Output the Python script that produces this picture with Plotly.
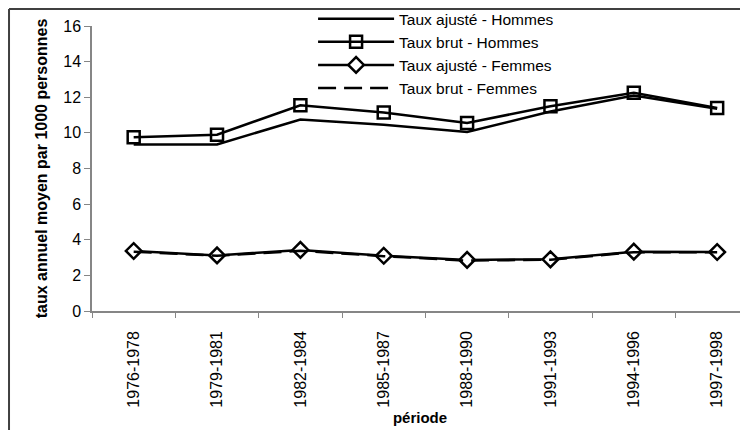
"""Taux annuel moyen par 1000 personnes, hommes / femmes, par période."""

import plotly.graph_objects as go

# Données
periodes = [
    "1976-1978", "1979-1981", "1982-1984", "1985-1987",
    "1988-1990", "1991-1993", "1994-1996", "1997-1998",
]
ajuste_hommes = [9.35, 9.35, 10.75, 10.45, 10.05, 11.2, 12.1, 11.35]
brut_hommes = [9.75, 9.9, 11.55, 11.15, 10.55, 11.5, 12.25, 11.4]
ajuste_femmes = [3.37, 3.12, 3.43, 3.1, 2.87, 2.9, 3.33, 3.31]
brut_femmes = [3.33, 3.1, 3.38, 3.08, 2.83, 2.88, 3.3, 3.3]

FONT = "Arial, Liberation Sans, sans-serif"
BLACK = "#000000"
AXIS = "#868686"
FRAME = "#404040"

fig = go.Figure()
fig.add_trace(go.Scatter(
    x=periodes, y=ajuste_hommes, name="Taux ajusté - Hommes",
    mode="lines", line=dict(color=BLACK, width=2.5),
))
fig.add_trace(go.Scatter(
    x=periodes, y=brut_hommes, name="Taux brut - Hommes",
    mode="lines+markers", line=dict(color=BLACK, width=2.5),
    marker=dict(symbol="square-open", size=12, color=BLACK, line=dict(width=2.5)),
))
fig.add_trace(go.Scatter(
    x=periodes, y=ajuste_femmes, name="Taux ajusté - Femmes",
    mode="lines+markers", line=dict(color=BLACK, width=2.5),
    marker=dict(symbol="diamond", size=12, color="white", line=dict(color=BLACK, width=2.5)),
))
fig.add_trace(go.Scatter(
    x=periodes, y=brut_femmes, name="Taux brut - Femmes",
    mode="lines", line=dict(color=BLACK, width=2.5, dash="18px,8px"),
))

# cadre extérieur, coupé à droite et en bas comme sur l'image
# (la page a une marge de 8 px : la figure fait 740x422)
FX, FY = -0.1265, 1.0596
fig.add_shape(type="line", xref="paper", yref="paper", x0=FX, x1=1.2, y0=FY, y1=FY,
              line=dict(color=FRAME, width=2))
fig.add_shape(type="line", xref="paper", yref="paper", x0=FX, x1=FX, y0=FY, y1=-0.6,
              line=dict(color=FRAME, width=2))

fig.update_layout(
    width=740, height=422,
    margin=dict(l=84, r=0, t=18, b=119, autoexpand=False),
    plot_bgcolor="white", paper_bgcolor="white",
    font=dict(family=FONT, size=16, color=BLACK),
    showlegend=True,
    legend=dict(
        x=0.337, y=1.084, xanchor="left", yanchor="top",
        bgcolor="rgba(0,0,0,0)", font=dict(size=15.5, color=BLACK),
        itemwidth=76, tracegroupgap=0,
    ),
)

fig.update_xaxes(
    type="category", range=[-0.5, 7.37],
    tickangle=-90, tickson="boundaries",
    ticks="outside", ticklen=5, tickcolor=AXIS, ticklabelstandoff=12,
    showline=True, linecolor=AXIS, linewidth=1.5,
    showgrid=False, zeroline=False,
    tickfont=dict(size=16),
    title=dict(text="<b>période</b>", font=dict(size=15), standoff=6),
)
fig.update_yaxes(
    range=[0, 16], dtick=2,
    ticks="outside", ticklen=6, tickcolor=AXIS, ticklabelstandoff=0,
    showline=True, linecolor=AXIS, linewidth=1.5,
    showgrid=False, zeroline=False,
    tickfont=dict(size=16),
    title=dict(text="<b>taux annuel moyen par 1000 personnes</b>", font=dict(size=16), standoff=12),
)

fig.write_html("out.html")
